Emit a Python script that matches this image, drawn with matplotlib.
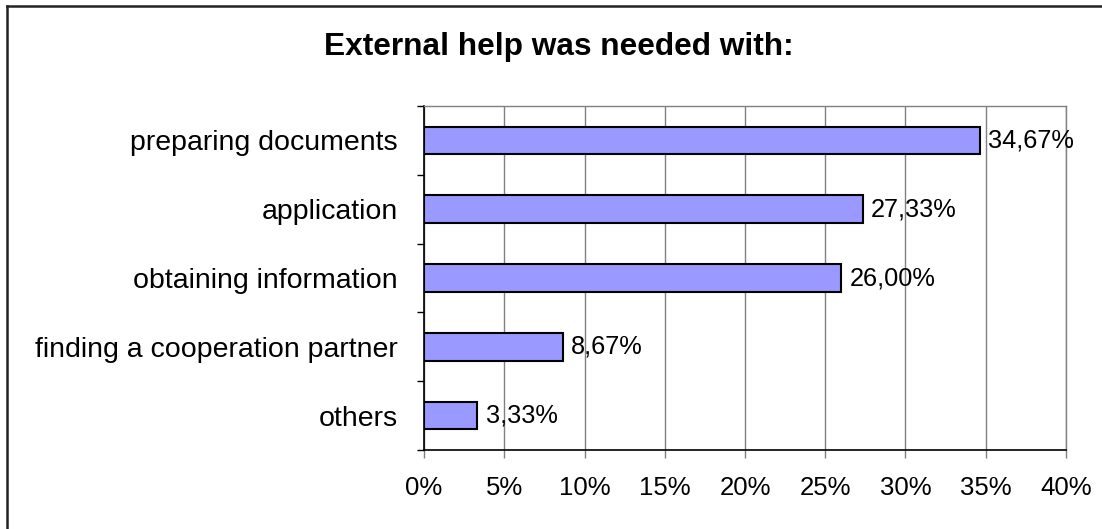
import numpy as np
import matplotlib.pyplot as plt
from matplotlib.lines import Line2D
from matplotlib.ticker import FixedLocator, PercentFormatter

plt.rcParams['font.family'] = ['Liberation Sans', 'DejaVu Sans']

categories = ['preparing documents', 'application', 'obtaining information',
              'finding a cooperation partner', 'others']
shares = [34.67, 27.33, 26.00, 8.67, 3.33]
value_labels = ['34,67%', '27,33%', '26,00%', '8,67%', '3,33%']

fig = plt.figure(figsize=(11.02, 5.29), dpi=100)
ax = fig.add_axes([0.3848, 0.1493, 0.5825, 0.6503])

y = np.arange(len(categories))[::-1]
ax.barh(y, shares, height=0.4, color='#9999FF', edgecolor='black',
        linewidth=1.5, zorder=3)
for yi, v, lab in zip(y, shares, value_labels):
    ax.text(v + 0.5, yi, lab, va='center', ha='left', fontsize=18.3, zorder=4)

ax.set_xlim(0, 40)
ax.set_ylim(-0.5, len(categories) - 0.5)
ax.set_xticks(np.arange(0, 41, 5))
ax.xaxis.set_major_formatter(PercentFormatter(decimals=0))
ax.set_yticks(y)
ax.set_yticklabels(categories, fontsize=20.5)
ax.yaxis.set_minor_locator(FixedLocator(np.arange(-0.5, len(categories), 1)))

ax.tick_params(axis='y', which='major', length=0, pad=19)
ax.tick_params(axis='y', which='minor', length=5, width=1, color='black')
ax.tick_params(axis='x', length=6, width=1, color='#808080', pad=13,
               labelsize=18.5)

ax.grid(axis='x', color='#808080', linewidth=1, zorder=0)
for side in ['top', 'right']:
    ax.spines[side].set_color('#808080')
    ax.spines[side].set_linewidth(1)
for side in ['left', 'bottom']:
    ax.spines[side].set_color('black')
    ax.spines[side].set_linewidth(1.2)

fig.text(0.507, 0.912, 'External help was needed with:', ha='center',
         va='center', fontsize=22.8, fontweight='bold')

# outer frame of the chart area
fig.add_artist(Line2D([0.0068, 0.0068], [0, 0.989], color='#222222',
                      linewidth=1.8, transform=fig.transFigure))
fig.add_artist(Line2D([0.0068, 1], [0.989, 0.989], color='#222222',
                      linewidth=1.8, transform=fig.transFigure))

fig.savefig('out.png', dpi=100)
